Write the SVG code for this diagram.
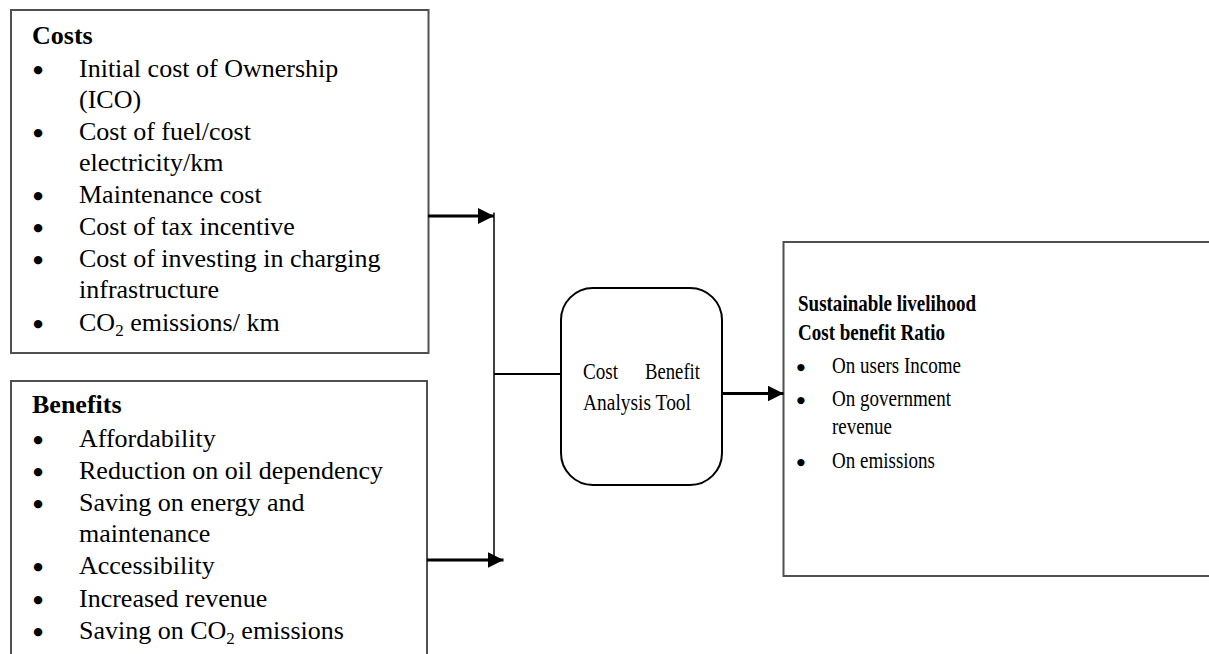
<svg xmlns="http://www.w3.org/2000/svg" width="1209" height="654" viewBox="0 0 1209 654">
<defs>
<style>
.box{fill:#fff;stroke:#505050;stroke-width:2}
.rbox{fill:#fff;stroke:#000;stroke-width:2}
.t{font-family:"Liberation Serif","Times New Roman",serif;font-size:26px;fill:#000}
.tb{font-family:"Liberation Serif","Times New Roman",serif;font-size:26px;font-weight:bold;fill:#000}
.s{font-family:"Liberation Serif","Times New Roman",serif;font-size:22.5px;fill:#000}
.sb{font-family:"Liberation Serif","Times New Roman",serif;font-size:22.5px;font-weight:bold;fill:#000}
.bul{font-family:"DejaVu Sans",sans-serif;font-size:11px;fill:#000;text-anchor:middle}
.bs{font-family:"DejaVu Sans",sans-serif;font-size:9.5px;fill:#000;text-anchor:middle}
.sub{font-size:17px}
.arrow{stroke:#000;stroke-width:3;fill:none}
.thin{stroke:#000;stroke-width:1.5;fill:none}
</style>
<marker id="ah" viewBox="0 0 16 16" refX="16" refY="8" markerWidth="16" markerHeight="16" markerUnits="userSpaceOnUse" orient="auto">
<path d="M0,0 L16,8 L0,16 Z" fill="#000"/>
</marker>
</defs>

<g id="costs">
<rect class="box" x="11" y="10" width="417.5" height="343"/>
<text class="tb" x="32" y="44">Costs</text>
<text class="bul" x="38" y="73">●</text>
<text class="t" x="79" y="77">Initial cost of Ownership</text>
<text class="t" x="79" y="108">(ICO)</text>
<text class="bul" x="38" y="136">●</text>
<text class="t" x="79" y="140">Cost of fuel/cost</text>
<text class="t" x="79" y="171">electricity/km</text>
<text class="bul" x="38" y="199">●</text>
<text class="t" x="79" y="203">Maintenance cost</text>
<text class="bul" x="38" y="231">●</text>
<text class="t" x="79" y="235">Cost of tax incentive</text>
<text class="bul" x="38" y="263">●</text>
<text class="t" x="79" y="267">Cost of investing in charging</text>
<text class="t" x="79" y="298">infrastructure</text>
<text class="bul" x="38" y="327">●</text>
<text class="t" x="79" y="331">CO<tspan class="sub" dy="5">2</tspan><tspan dy="-5"> emissions/ km</tspan></text>
</g>

<g id="benefits">
<rect class="box" x="11" y="381" width="416" height="290"/>
<text class="tb" x="32" y="413">Benefits</text>
<text class="bul" x="38" y="443">●</text>
<text class="t" x="79" y="447">Affordability</text>
<text class="bul" x="38" y="475">●</text>
<text class="t" x="79" y="479">Reduction on oil dependency</text>
<text class="bul" x="38" y="507">●</text>
<text class="t" x="79" y="511">Saving on energy and</text>
<text class="t" x="79" y="542">maintenance</text>
<text class="bul" x="38" y="570">●</text>
<text class="t" x="79" y="574">Accessibility</text>
<text class="bul" x="38" y="603">●</text>
<text class="t" x="79" y="607">Increased revenue</text>
<text class="bul" x="38" y="635">●</text>
<text class="t" x="79" y="639">Saving on CO<tspan class="sub" dy="5">2</tspan><tspan dy="-5"> emissions</tspan></text>
</g>

<g id="tool">
<rect class="rbox" x="561" y="288" width="161" height="197" rx="32" ry="32"/>
<text class="s" y="379"><tspan x="583" textLength="35" lengthAdjust="spacingAndGlyphs">Cost</tspan><tspan x="645" textLength="55" lengthAdjust="spacingAndGlyphs">Benefit</tspan></text>
<text class="s" x="583" y="410" textLength="108" lengthAdjust="spacingAndGlyphs">Analysis Tool</text>
</g>

<g id="result">
<rect class="box" x="783.5" y="242" width="440" height="334"/>
<text class="sb" x="798" y="310.5" textLength="178" lengthAdjust="spacingAndGlyphs">Sustainable livelihood</text>
<text class="sb" x="798" y="340" textLength="147" lengthAdjust="spacingAndGlyphs">Cost benefit Ratio</text>
<text class="bs" x="801" y="370">●</text>
<text class="s" x="832" y="373" textLength="129" lengthAdjust="spacingAndGlyphs">On users Income</text>
<text class="bs" x="801" y="402.5">●</text>
<text class="s" x="832" y="405.5" textLength="119" lengthAdjust="spacingAndGlyphs">On government</text>
<text class="s" x="832" y="434" textLength="60" lengthAdjust="spacingAndGlyphs">revenue</text>
<text class="bs" x="801" y="464.5">●</text>
<text class="s" x="832" y="467.5" textLength="103" lengthAdjust="spacingAndGlyphs">On emissions</text>
</g>

<g id="connectors">
<line class="arrow" x1="428" y1="216" x2="494" y2="216" marker-end="url(#ah)"/>
<line class="thin" x1="494" y1="212.5" x2="494" y2="558"/>
<line class="arrow" x1="427" y1="560" x2="503.5" y2="560" marker-end="url(#ah)"/>
<line class="arrow" x1="494" y1="374" x2="561" y2="374" style="stroke-width:2"/>
<line class="arrow" x1="722" y1="393.5" x2="783.5" y2="393.5" marker-end="url(#ah)"/>
</g>
</svg>
